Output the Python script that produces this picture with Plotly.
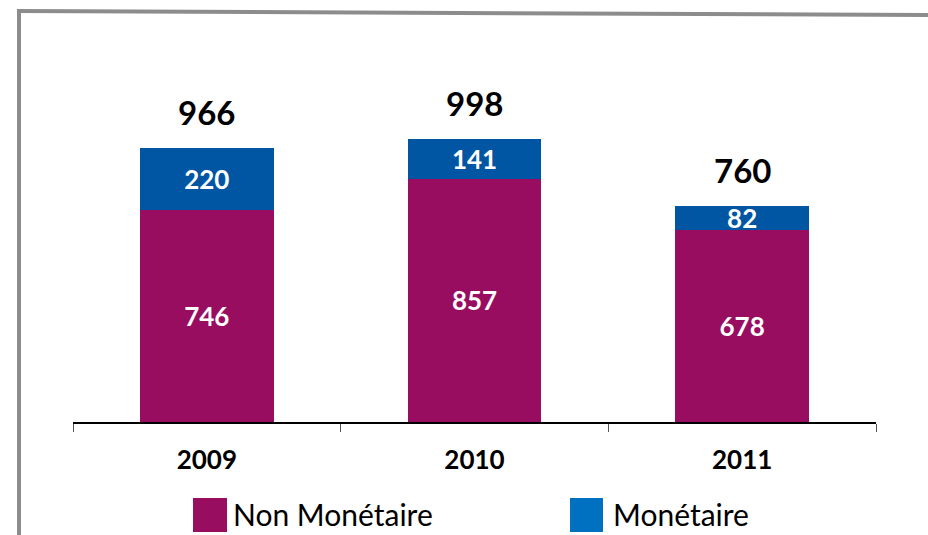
import plotly.graph_objects as go

years = ["2009", "2010", "2011"]
non_monetaire = [746, 857, 678]
monetaire = [220, 141, 82]
totals = [966, 998, 760]

W, H = 928, 535
L, R, T, B = 73, 52, 100, 113
PW, PH = W - L - R, H - T - B

def px(x):
    return (x - L) / PW

def py(y):
    return 1 - (y - T) / PH

FONT = "Lato"
PURPLE = "#990D61"
BLUE_BAR = "#0056A2"
BLUE_LEG = "#0070C0"

fig = go.Figure()
fig.add_trace(go.Bar(
    x=years, y=non_monetaire, name="Non Monétaire",
    marker=dict(color=PURPLE, line=dict(width=0)),
    text=[str(v) for v in non_monetaire], textposition="inside", textangle=0,
    insidetextanchor="middle", constraintext="none",
    textfont=dict(family=FONT, size=26, color="white", weight="bold"),
))
fig.add_trace(go.Bar(
    x=years, y=monetaire, name="Monétaire",
    marker=dict(color=BLUE_BAR, line=dict(width=0)),
    text=[str(v) for v in monetaire], textposition="inside", textangle=0,
    insidetextanchor="middle", constraintext="none",
    textfont=dict(family=FONT, size=26, color="white", weight="bold"),
))

for i, tot in enumerate(totals):
    fig.add_annotation(x=i, y=tot, text=str(tot), showarrow=False,
                       yanchor="bottom", yshift=14,
                       font=dict(family=FONT, size=33, color="black", weight="bold"))

shapes = [
    dict(type="line", xref="paper", yref="paper", x0=px(19), x1=px(19), y0=py(10), y1=py(540),
         line=dict(color="#8C8C8C", width=4)),
    dict(type="line", xref="paper", yref="paper", x0=px(17), x1=px(930), y0=py(11), y1=py(15),
         line=dict(color="#8C8C8C", width=4)),
    dict(type="rect", xref="paper", yref="paper", x0=px(193), x1=px(227), y0=py(498), y1=py(532),
         fillcolor=PURPLE, line=dict(width=0)),
    dict(type="rect", xref="paper", yref="paper", x0=px(570), x1=px(603), y0=py(498), y1=py(532),
         fillcolor=BLUE_LEG, line=dict(width=0)),
]
for s in shapes:
    fig.add_shape(**s)

fig.add_annotation(xref="paper", yref="paper", x=px(231), y=py(514), text="Non Monétaire",
                   showarrow=False, xanchor="left", yanchor="middle",
                   font=dict(family=FONT, size=30, color="black"))
fig.add_annotation(xref="paper", yref="paper", x=px(611), y=py(514), text="Monétaire",
                   showarrow=False, xanchor="left", yanchor="middle",
                   font=dict(family=FONT, size=30, color="black"))

fig.update_layout(
    width=W, height=H, barmode="stack", bargap=0.5,
    margin=dict(l=L, r=R, t=T, b=B),
    paper_bgcolor="white", plot_bgcolor="white",
    showlegend=False,
    xaxis=dict(type="category", range=[-0.5, 2.5], showline=True, linecolor="black", linewidth=1.5,
               ticks="outside", tickson="boundaries", ticklen=8, tickcolor="#555555",
               showgrid=False, tickangle=0,
               tickfont=dict(family=FONT, size=26, color="black", weight="bold"),
               ticklabelstandoff=14),
    yaxis=dict(range=[0, 1135], visible=False, showgrid=False, zeroline=False),
)

fig.write_html("out.html")
